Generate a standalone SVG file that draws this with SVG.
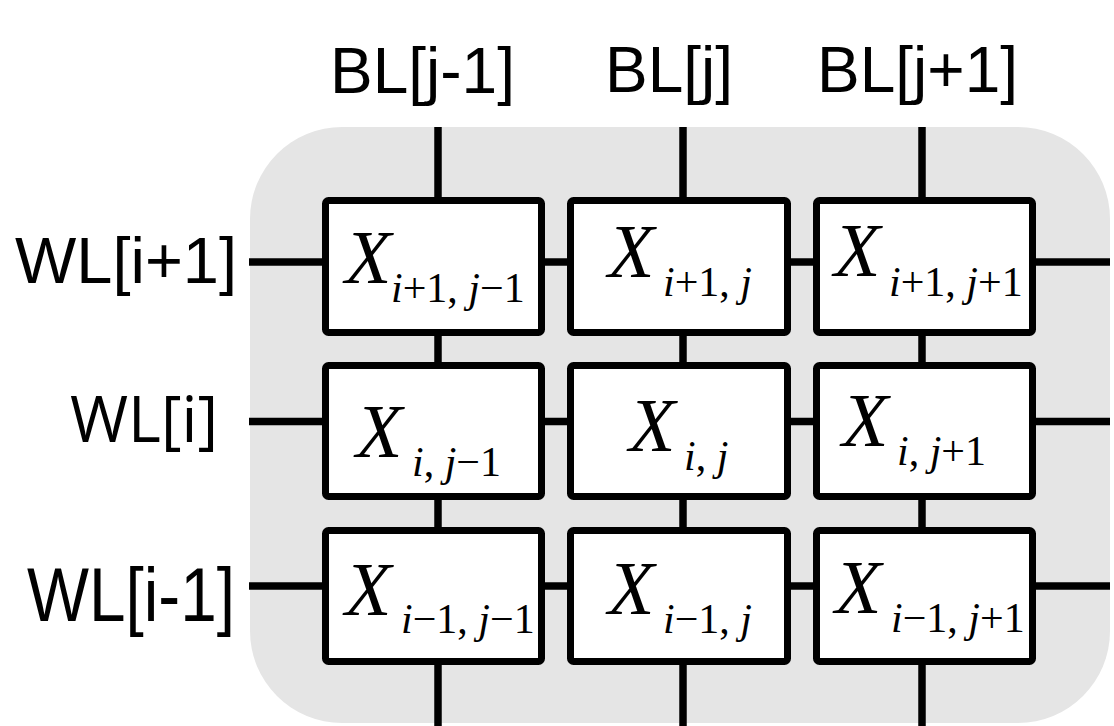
<svg xmlns="http://www.w3.org/2000/svg" width="1114" height="726" viewBox="0 0 1114 726">
  <style>
    .wire { stroke: #000; stroke-width: 7.5; fill: none; }
    .cell rect { fill: #fff; stroke: #000; stroke-width: 7; }
    .lbl { font-family: "Liberation Sans", Arial, sans-serif; font-size: 64px; fill: #000; }
    .var { font-family: "Liberation Serif", "Times New Roman", serif; font-size: 76px; fill: #000; }
    .var .x { font-style: italic; }
    .var .sub { font-size: 42px; }
    .it { font-style: italic; }
  </style>

  <!-- array background -->
  <rect id="array" x="250" y="127" width="860" height="596" rx="92" ry="92" fill="#e5e5e5"/>

  <!-- bit lines and word lines -->
  <g id="connectors">
    <line class="wire" x1="438" y1="127" x2="438" y2="726"/>
    <line class="wire" x1="683" y1="127" x2="683" y2="726"/>
    <line class="wire" x1="922" y1="127" x2="922" y2="726"/>
    <line class="wire" x1="249" y1="262" x2="1110" y2="262"/>
    <line class="wire" x1="249" y1="421.5" x2="1110" y2="421.5"/>
    <line class="wire" x1="249" y1="586" x2="1110" y2="586"/>
  </g>

  <!-- line labels -->
  <g id="labels">
    <text class="lbl" x="330" y="93">BL[j-1]</text>
    <text class="lbl" x="605" y="92">BL[j]</text>
    <text class="lbl" x="817" y="92">BL[j+1]</text>
    <text class="lbl" x="15" y="283" textLength="222" lengthAdjust="spacingAndGlyphs">WL[i+1]</text>
    <text x="70" y="442" font-family="'Open Sans', 'Liberation Sans', sans-serif" font-size="64" textLength="148" lengthAdjust="spacingAndGlyphs">WL[i]</text>
    <text class="lbl" x="27" y="621" style="font-size:76px" textLength="208" lengthAdjust="spacingAndGlyphs">WL[i-1]</text>
  </g>

  <!-- row i+1 -->
  <g id="cell-i1-j0" class="cell">
    <rect x="325.5" y="200.5" width="216" height="132" rx="3"/>
    <text class="var" x="345" y="283"><tspan class="x">X</tspan><tspan class="sub" x="391" y="302"><tspan class="it">i</tspan>+1, <tspan class="it">j</tspan>−1</tspan></text>
  </g>
  <g id="cell-i1-j1" class="cell">
    <rect x="570.5" y="200.5" width="217" height="132" rx="3"/>
    <text class="var" x="608" y="277"><tspan class="x">X</tspan><tspan class="sub" x="663" y="296"><tspan class="it">i</tspan>+1, <tspan class="it">j</tspan></tspan></text>
  </g>
  <g id="cell-i1-j2" class="cell">
    <rect x="816.5" y="200.5" width="216" height="132" rx="3"/>
    <text class="var" x="834" y="276"><tspan class="x">X</tspan><tspan class="sub" x="889" y="296"><tspan class="it">i</tspan>+1, <tspan class="it">j</tspan>+1</tspan></text>
  </g>

  <!-- row i -->
  <g id="cell-i0-j0" class="cell">
    <rect x="325.5" y="365.5" width="216" height="131" rx="3"/>
    <text class="var" x="356" y="457"><tspan class="x">X</tspan><tspan class="sub" x="412" y="476"><tspan class="it">i</tspan>, <tspan class="it">j</tspan>−1</tspan></text>
  </g>
  <g id="cell-i0-j1" class="cell">
    <rect x="570.5" y="365.5" width="217" height="131" rx="3"/>
    <text class="var" x="629" y="451"><tspan class="x">X</tspan><tspan class="sub" x="684" y="470"><tspan class="it">i</tspan>, <tspan class="it">j</tspan></tspan></text>
  </g>
  <g id="cell-i0-j2" class="cell">
    <rect x="816.5" y="365.5" width="216" height="131" rx="3"/>
    <text class="var" x="842" y="446"><tspan class="x">X</tspan><tspan class="sub" x="897" y="465"><tspan class="it">i</tspan>, <tspan class="it">j</tspan>+1</tspan></text>
  </g>

  <!-- row i-1 -->
  <g id="cell-im1-j0" class="cell">
    <rect x="325.5" y="530.5" width="216" height="131" rx="3"/>
    <text class="var" x="345" y="615"><tspan class="x">X</tspan><tspan class="sub" x="401" y="633"><tspan class="it">i</tspan>−1, <tspan class="it">j</tspan>−1</tspan></text>
  </g>
  <g id="cell-im1-j1" class="cell">
    <rect x="570.5" y="530.5" width="217" height="131" rx="3"/>
    <text class="var" x="608" y="614"><tspan class="x">X</tspan><tspan class="sub" x="663" y="633"><tspan class="it">i</tspan>−1, <tspan class="it">j</tspan></tspan></text>
  </g>
  <g id="cell-im1-j2" class="cell">
    <rect x="816.5" y="530.5" width="216" height="131" rx="3"/>
    <text class="var" x="835" y="613"><tspan class="x">X</tspan><tspan class="sub" x="891" y="632"><tspan class="it">i</tspan>−1, <tspan class="it">j</tspan>+1</tspan></text>
  </g>
</svg>
